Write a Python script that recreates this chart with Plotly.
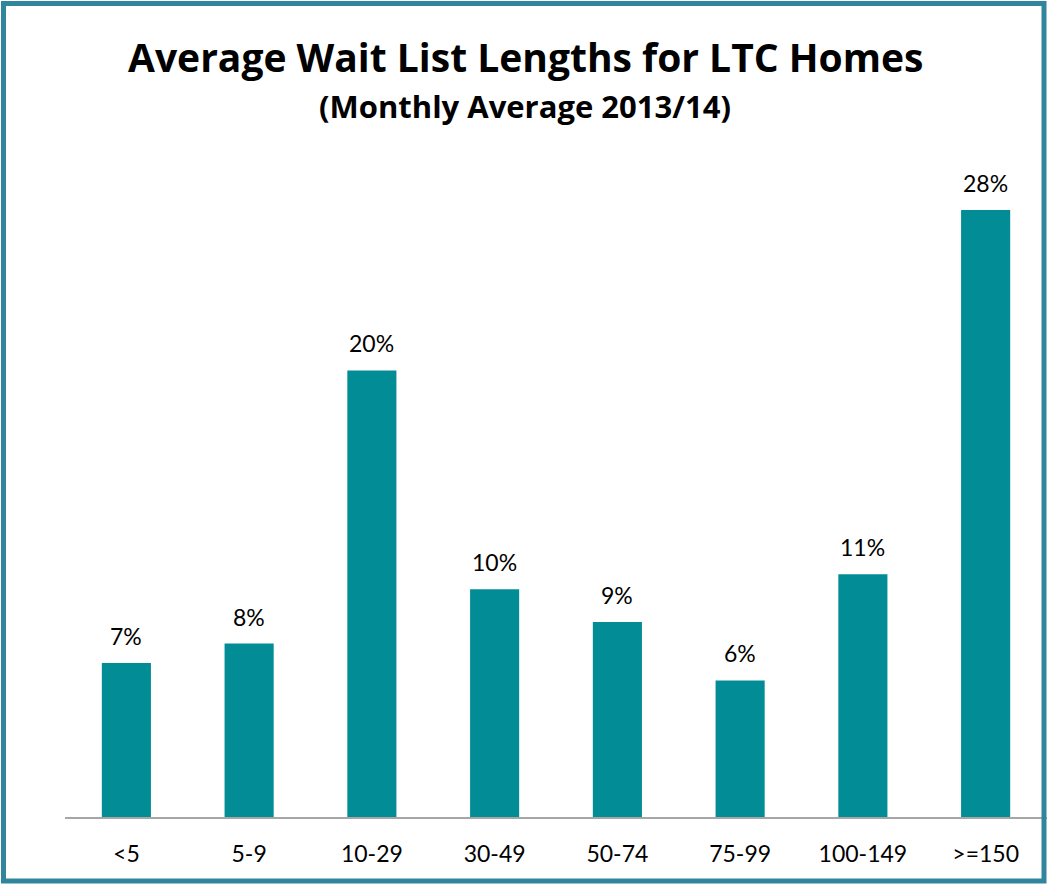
import plotly.graph_objects as go

categories = ["<5", "5-9", "10-29", "30-49", "50-74", "75-99", "100-149", ">=150"]
values = [7.1, 8.0, 20.6, 10.5, 9.0, 6.3, 11.2, 28.0]
labels = ["7%", "8%", "20%", "10%", "9%", "6%", "11%", "28%"]

W, H = 1047, 884
L, R, T, B = 65, 0, 150, 67
pw, ph = W - L - R, H - T - B

def px(x):
    return (x - L) / pw

def py(y):
    return (H - B - y) / ph

bar_color = "#028C96"
border_color = "#31869E"
font_family = "Lato, 'Open Sans', sans-serif"
title_family = "'Open Sans', Lato, sans-serif"

fig = go.Figure(go.Bar(x=categories, y=values, marker=dict(color=bar_color, line=dict(width=0)),
                       width=0.4, hoverinfo="skip"))

annotations = []
for c, v, t in zip(categories, values, labels):
    annotations.append(dict(x=c, y=v, text=t, showarrow=False, yanchor="bottom", yshift=11,
                            font=dict(size=23, color="#000", family=font_family)))

annotations.append(dict(x=px(525), y=py(57), xref="paper", yref="paper", text="<b>Average Wait List Lengths for LTC Homes</b>",
                        showarrow=False, xanchor="center", yanchor="middle",
                        font=dict(size=39, color="#000", family=title_family)))
annotations.append(dict(x=px(525), y=py(106), xref="paper", yref="paper", text="<b>(Monthly Average 2013/14)</b>",
                        showarrow=False, xanchor="center", yanchor="middle",
                        font=dict(size=31, color="#000", family=title_family)))

fig.update_layout(
    width=W, height=H,
    margin=dict(l=L, r=R, t=T, b=B, pad=0),
    paper_bgcolor="white", plot_bgcolor="white",
    showlegend=False,
    annotations=annotations,
    xaxis=dict(showline=True, linecolor="#A6A6A6", linewidth=1.5, ticks="", showgrid=False,
               tickfont=dict(size=23, color="#000", family=font_family), ticklabelstandoff=16),
    yaxis=dict(range=[0, 667 / 21.68], visible=False, showgrid=False, zeroline=False),
    shapes=[dict(type="rect", xref="paper", yref="paper",
                 x0=px(3.5), x1=px(1044), y0=py(881), y1=py(3.5),
                 line=dict(color=border_color, width=5), fillcolor="rgba(0,0,0,0)", layer="above")],
)

fig.write_html("out.html", config={"displayModeBar": False},
               post_script="document.body.style.margin='0';document.body.style.overflow='hidden';")
